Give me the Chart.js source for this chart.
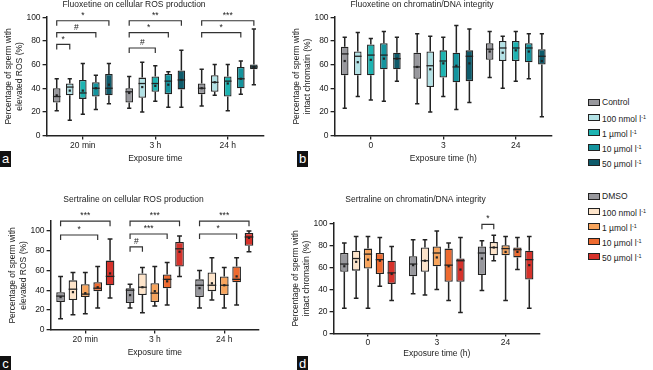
<!DOCTYPE html>
<html>
<head>
<meta charset="utf-8">
<script src="https://cdn.jsdelivr.net/npm/chart.js@4.4.0/dist/chart.umd.min.js"></script>
<style>
body{margin:0;background:#fff;width:653px;height:370px;position:relative;overflow:hidden;font-family:"Liberation Sans",Arial,sans-serif;color:#222}
canvas{position:absolute}
.tag{position:absolute;background:#111;color:#fff;font-size:13px;width:11px;height:16px;line-height:15px;text-align:center}
.legend{position:absolute;font-size:8.5px;left:588px;color:#222}
.legend div{position:relative;height:15px;line-height:15px;padding-left:14px;white-space:nowrap}
.legend .sw{position:absolute;left:0;top:4px;width:10px;height:5px;border:1.4px solid #222}
sup{font-size:5.5px;vertical-align:3px;color:#222}
</style>
</head>
<body>
<canvas id="pa" width="268" height="164" style="left:0;top:0"></canvas>
<canvas id="pb" width="268" height="164" style="left:288px;top:0"></canvas>
<canvas id="pc" width="258" height="163" style="left:5px;top:195px"></canvas>
<canvas id="pd" width="258" height="164" style="left:286px;top:195px"></canvas>
<div class="tag" style="left:0;top:151px">a</div>
<div class="tag" style="left:297px;top:151px">b</div>
<div class="tag" style="left:0;top:356px">c</div>
<div class="tag" style="left:297px;top:356px">d</div>
<div class="legend" id="legB" style="top:95px"></div>
<div class="legend" id="legD" style="top:189px"></div>
<script>
// categories and labels
var rosTimes = ['20 min', '3 h', '24 h'];
var dnaTimes = ['0', '3', '24'];
var fluoxLabels = ['Control', '100 nmol l-1', '1 µmol l-1', '10 µmol l-1', '50 µmol l-1'];
var sertLabels = ['DMSO', '100 nmol l-1', '1 µmol l-1', '10 µmol l-1', '50 µmol l-1'];
var yTicks = [0, 20, 40, 60, 80, 100];

// each entry: [min, q1, median, q3, max, mean] per time point
// a - fluoxetine, ROS
var aControl = [[21, 28, 33, 40, 48, 34], [23, 28, 37, 40, 50, 36], [25, 35, 40, 44, 56, 40]];
var a100n = [[13, 34, 41, 44, 48, 38], [20, 32, 44, 49, 62, 41], [34, 37, 45, 51, 60, 45]];
var a1u = [[18, 31, 36, 47, 61, 38], [29, 37, 44, 50, 59, 42], [21, 33, 46, 50, 60, 44]];
var a10u = [[22, 33, 40, 45, 51, 40], [24, 35, 46, 52, 54, 43], [35, 40, 48, 58, 63, 48]];
var a50u = [[27, 34, 40, 52, 61, 43], [24, 39, 47, 55, 72, 47], [43, 56, 58, 60, 90, 58]];
// b - fluoxetine, chromatin
var bControl = [[23, 51, 69, 75, 83, 63], [27, 48, 58, 70, 86, 58], [49, 64, 73, 78, 88, 71]];
var b100n = [[33, 51, 67, 71, 87, 62], [20, 41, 59, 71, 84, 56], [40, 63, 74, 80, 84, 70]];
var b1u = [[30, 51, 68, 77, 82, 64], [33, 49, 63, 72, 83, 61], [46, 63, 74, 80, 88, 72]];
var b10u = [[29, 56, 68, 78, 88, 65], [22, 45, 58, 70, 93, 59], [48, 62, 74, 78, 86, 71]];
var b50u = [[46, 56, 65, 70, 83, 65], [28, 46, 67, 72, 90, 61], [16, 60, 67, 73, 86, 63]];
// c - sertraline, ROS
var cControl = [[11, 28, 34, 38, 54, 33], [22, 27, 40, 42, 46, 35], [22, 33, 45, 51, 60, 42]];
var c100n = [[15, 30, 41, 50, 58, 38], [17, 35, 43, 57, 63, 43], [30, 39, 45, 58, 73, 47]];
var c1u = [[16, 33, 36, 46, 58, 37], [24, 28, 37, 47, 64, 39], [22, 35, 45, 54, 63, 45]];
var c10u = [[22, 39, 42, 48, 64, 43], [25, 42, 51, 56, 68, 49], [25, 48, 51, 64, 73, 54]];
var c50u = [[32, 45, 54, 70, 92, 57], [54, 64, 82, 89, 95, 79], [79, 85, 94, 98, 100, 93]];
// d - sertraline, chromatin
var dControl = [[23, 56, 63, 73, 82, 61], [36, 52, 63, 70, 85, 62], [39, 53, 73, 79, 84, 68]];
var d100n = [[32, 57, 68, 75, 88, 65], [35, 56, 66, 78, 85, 66], [66, 71, 78, 83, 89, 78]];
var d1u = [[23, 59, 72, 77, 88, 67], [40, 61, 73, 79, 93, 69], [30, 71, 77, 80, 88, 74]];
var d10u = [[43, 54, 67, 73, 87, 66], [30, 47, 62, 77, 82, 61], [58, 69, 76, 78, 87, 74]];
var d50u = [[30, 45, 55, 66, 79, 54], [19, 47, 66, 68, 87, 58], [23, 49, 67, 75, 88, 62]];

// significance brackets: [time index, from series, to series, y value, label]
var aSig = [[0, 0, 1, 77, '*'], [0, 0, 3, 87, '#'], [0, 0, 4, 97, '*'], [1, 0, 2, 74, '#'], [1, 0, 3, 87, '*'], [1, 0, 4, 97, '**'], [2, 0, 3, 87, '*'], [2, 0, 4, 97, '***']];
var bSig = [];
var cSig = [[0, 0, 3, 96, '*'], [0, 0, 4, 110, '***'], [1, 0, 1, 84, '#'], [1, 0, 3, 97, '***'], [1, 0, 4, 110, '***'], [2, 0, 3, 97, '*'], [2, 0, 4, 110, '***']];
var dSig = [[2, 0, 1, 99, '*']];

var fluoxColors = ['#98989d', '#b3e2e6', '#1db4b2', '#14949e', '#0e5b6b'];
var sertColors = ['#98989d', '#fde4ca', '#f7a45c', '#ee6a2f', '#d6322b'];

var FONT = {family: '"Liberation Sans", Arial, sans-serif', size: 8.5, weight: 'normal'};
var INK = '#222';

// draws whiskers, medians, means and brackets on top of the floating bars
var boxPlugin = {
    id: 'boxes',
    afterDatasetsDraw: function (chart, args, opts) {
        var ctx = chart.ctx, y = chart.scales.y;
        ctx.save();
        chart.data.datasets.forEach(function (ds, di) {
            chart.getDatasetMeta(di).data.forEach(function (bar, i) {
                var s = ds.stats[i];
                var x = bar.x, w = bar.width, cap = w * 0.28;
                ctx.strokeStyle = INK;
                ctx.lineWidth = 1.5;
                ctx.beginPath();
                ctx.moveTo(x, y.getPixelForValue(s[3])); ctx.lineTo(x, y.getPixelForValue(s[4]));
                ctx.moveTo(x - cap, y.getPixelForValue(s[4])); ctx.lineTo(x + cap, y.getPixelForValue(s[4]));
                ctx.moveTo(x, y.getPixelForValue(s[1])); ctx.lineTo(x, y.getPixelForValue(s[0]));
                ctx.moveTo(x - cap, y.getPixelForValue(s[0])); ctx.lineTo(x + cap, y.getPixelForValue(s[0]));
                ctx.stroke();
                ctx.lineWidth = 1.3;
                ctx.beginPath();
                ctx.moveTo(x - w / 2, y.getPixelForValue(s[2])); ctx.lineTo(x + w / 2, y.getPixelForValue(s[2]));
                ctx.stroke();
                ctx.fillStyle = INK;
                var my = y.getPixelForValue(s[5]);
                ctx.fillRect(x - 1.1, my - 1.1, 2.2, 2.2);
            });
        });
        // brackets
        ctx.strokeStyle = '#333';
        ctx.lineWidth = 1.2;
        ctx.fillStyle = INK;
        ctx.font = '8.5px "Liberation Sans", Arial, sans-serif';
        ctx.textAlign = 'center';
        ctx.textBaseline = 'bottom';
        (opts.sig || []).forEach(function (b) {
            var x1 = chart.getDatasetMeta(b[1]).data[b[0]].x;
            var x2 = chart.getDatasetMeta(b[2]).data[b[0]].x;
            var py = y.getPixelForValue(b[3]);
            ctx.beginPath();
            ctx.moveTo(x1, py + 5); ctx.lineTo(x1, py); ctx.lineTo(x2, py); ctx.lineTo(x2, py + 5);
            ctx.stroke();
            ctx.fillText(b[4], (x1 + x2) / 2, py - 1);
        });
        ctx.restore();
    }
};

function makePanel(id, cats, labels, series, colors, sig, cfg) {
    var datasets = series.map(function (s, k) {
        return {
            label: labels[k],
            data: s.map(function (v) { return [v[1], v[3]]; }),
            stats: s,
            backgroundColor: colors[k],
            borderColor: INK,
            borderWidth: 1.3,
            borderSkipped: false,
            categoryPercentage: cfg.cat,
            barPercentage: cfg.bar
        };
    });
    return new Chart(document.getElementById(id), {
        type: 'bar',
        data: {labels: cats, datasets: datasets},
        plugins: [boxPlugin],
        options: {
            responsive: false,
            animation: false,
            layout: {padding: {left: cfg.left, right: 4, top: 0, bottom: 0}},
            plugins: {
                legend: {display: false},
                tooltip: {enabled: false},
                boxes: {sig: sig},
                title: {display: true, text: cfg.title, color: INK, font: FONT, padding: {top: 0, bottom: cfg.tpad}}
            },
            scales: {
                x: {
                    grid: {display: true, drawOnChartArea: false, offset: false, tickLength: cfg.xtick, color: INK, lineWidth: 1.3},
                    border: {color: INK, width: 1.5},
                    ticks: {color: INK, font: FONT, padding: 1, maxRotation: 0},
                    title: {display: true, text: cfg.xTitle, color: INK, font: FONT, padding: {top: cfg.xtpad, bottom: 0}}
                },
                y: {
                    min: 0,
                    max: cfg.yMax,
                    afterBuildTicks: function (axis) { axis.ticks = yTicks.map(function (v) { return {value: v}; }); },
                    grid: {display: true, drawOnChartArea: false, tickLength: 4, color: INK, lineWidth: 1.3},
                    border: {color: INK, width: 1.5},
                    ticks: {color: INK, font: FONT, padding: 2},
                    title: {display: true, text: cfg.yTitle, color: INK, font: {family: FONT.family, size: 8.5, lineHeight: 1.2}, padding: {top: 0, bottom: 0}}
                }
            }
        }
    });
}

makePanel('pa', rosTimes, fluoxLabels, [aControl, a100n, a1u, a10u, a50u], fluoxColors, aSig,
    {title: 'Fluoxetine on cellular ROS production', xTitle: 'Exposure time', yTitle: ['Percentage of sperm with', 'elevated ROS (%)'],
     yMax: 100, tpad: 7, left: 4, cat: 0.9, bar: 0.58, xtick: 4, xtpad: 2});
makePanel('pb', dnaTimes, fluoxLabels, [bControl, b100n, b1u, b10u, b50u], fluoxColors, bSig,
    {title: 'Fluoxetine on chromatin/DNA integrity', xTitle: 'Exposure time (h)', yTitle: ['Percentage of sperm with', 'intact chromatin (%)'],
     yMax: 100, tpad: 7, left: 4, cat: 0.9, bar: 0.58, xtick: 4, xtpad: 2});
makePanel('pc', rosTimes, sertLabels, [cControl, c100n, c1u, c10u, c50u], sertColors, cSig,
    {title: 'Sertraline on cellular ROS production', xTitle: 'Exposure time', yTitle: ['Percentage of sperm with', 'elevated ROS (%)'],
     yMax: 110, tpad: 16, left: 3, cat: 0.89, bar: 0.7, xtick: 4, xtpad: 2});
makePanel('pd', dnaTimes, sertLabels, [dControl, d100n, d1u, d10u, d50u], sertColors, dSig,
    {title: 'Sertraline on chromatin/DNA integrity', xTitle: 'Exposure time (h)', yTitle: ['Percentage of sperm with', 'intact chromatin (%)'],
     yMax: 100, tpad: 18, left: 5, cat: 0.86, bar: 0.7, xtick: 3, xtpad: 0});

function buildLegend(id, labels, colors) {
    var el = document.getElementById(id);
    labels.forEach(function (t, k) {
        var row = document.createElement('div');
        var sw = document.createElement('span');
        sw.className = 'sw';
        sw.style.background = colors[k];
        row.appendChild(sw);
        var txt = document.createElement('span');
        txt.innerHTML = t.replace('l-1', 'l<sup>-1</sup>');
        row.appendChild(txt);
        el.appendChild(row);
    });
}
buildLegend('legB', fluoxLabels, fluoxColors);
buildLegend('legD', sertLabels, sertColors);
</script>
</body>
</html>
